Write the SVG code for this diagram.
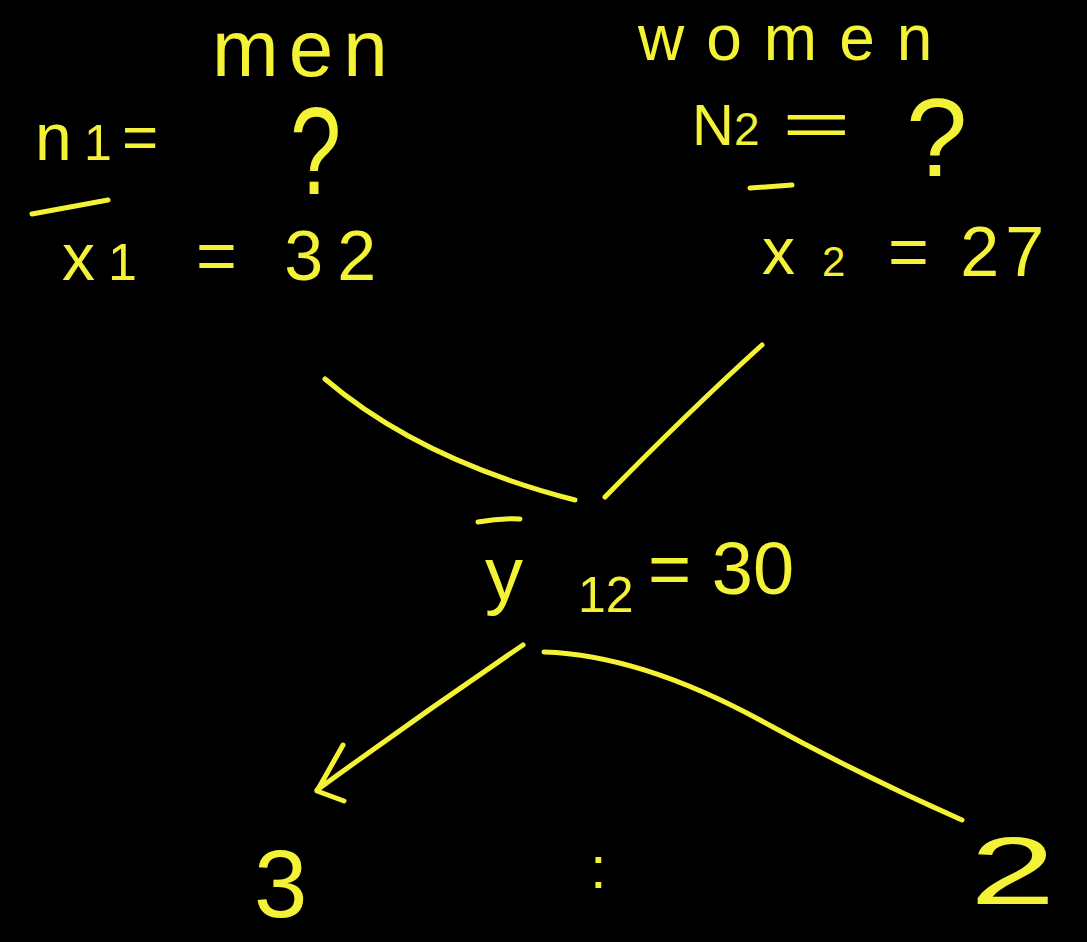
<svg xmlns="http://www.w3.org/2000/svg" width="1087" height="942" viewBox="0 0 1087 942">
<style>
.t{font-family:"Liberation Sans","DejaVu Sans",sans-serif;fill:#f4f236}
.s{fill:none;stroke:#f4f236;stroke-width:5;stroke-linecap:round;stroke-linejoin:round}
</style>
<rect width="1087" height="942" fill="#000"/>
<g id="men">
<text class="t" x="212" y="76" font-size="80" letter-spacing="10">men</text>
<text class="t" x="35" y="160" font-size="66">n</text>
<text class="t" x="84" y="160" font-size="50">1</text>
<text class="t" x="122" y="158" font-size="62">=</text>
<text class="t" transform="translate(290,194) scale(1,1.35)" font-size="92">?</text>
<path class="s" d="M32 214 L108 200"/>
<text class="t" x="62" y="280" font-size="66">x</text>
<text class="t" x="108" y="280" font-size="52">1</text>
<text class="t" x="196" y="280" font-size="70" letter-spacing="14">= 32</text>
</g>
<g id="women">
<text class="t" x="638" y="60" font-size="64" letter-spacing="22">women</text>
<text class="t" x="692" y="145" font-size="58">N</text>
<text class="t" x="734" y="145" font-size="46">2</text>
<text class="t" transform="translate(782,145) scale(1.9,1)" font-size="62">=</text>
<text class="t" transform="translate(906,176) scale(1.2,1.2)" font-size="92">?</text>
<path class="s" d="M750 188 L792 185"/>
<text class="t" x="762" y="274" font-size="66">x</text>
<text class="t" x="822" y="276" font-size="42">2</text>
<text class="t" x="888" y="276" font-size="70" letter-spacing="6">= 27</text>
</g>
<g id="pooled">
<path class="s" d="M478 522 Q500 518 520 519"/>
<text class="t" x="485" y="600" font-size="76">y</text>
<text class="t" x="578" y="612" font-size="50">12</text>
<text class="t" x="648" y="594" font-size="74">= 30</text>
</g>
<g id="ratio">
<text class="t" x="254" y="917" font-size="96">3</text>
<text class="t" x="590" y="888" font-size="60">:</text>
<text class="t" transform="translate(970,904) scale(1.6,1)" font-size="96">2</text>
</g>
<g id="connectors">
<path class="s" d="M325 379 Q420 460 575 500"/>
<path class="s" d="M762 345 Q690 410 605 497"/>
<path class="s" d="M523 645 Q420 715 317 790"/>
<path class="s" d="M343 745 L317 791 L344 801"/>
<path class="s" d="M544 652 Q640 655 760 720 Q860 775 962 820"/>
</g>
</svg>
